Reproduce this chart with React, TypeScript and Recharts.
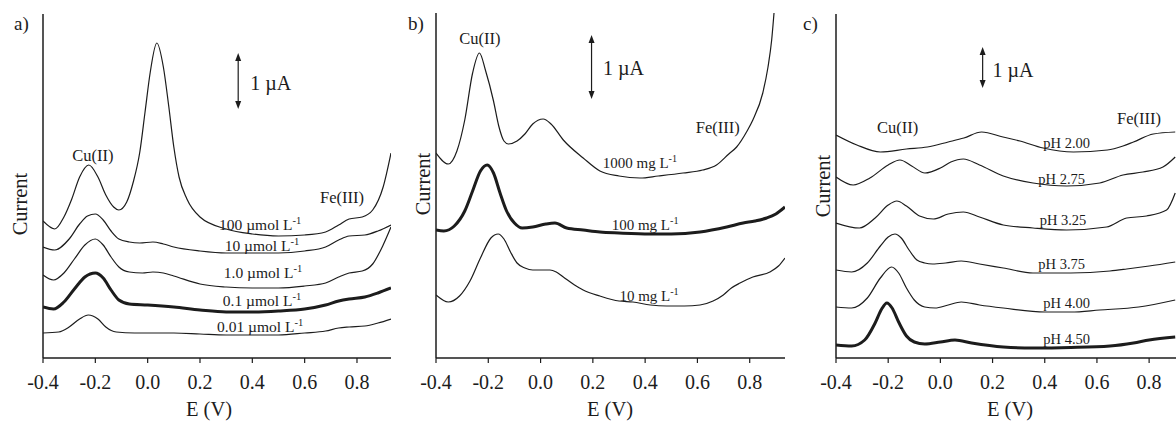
import { LineChart, Line, XAxis, YAxis, ReferenceDot, ReferenceLine } from "recharts";

const FONT = "'Liberation Serif', 'Times New Roman', serif";
const INK = "#1c1c1c";

const ticksE = [-0.4, -0.2, 0, 0.2, 0.4, 0.6, 0.8];

// a) concentration series, [E (V), current (a.u.)]
const a100 = [[-0.4,136],[-0.355,128],[-0.32,140],[-0.29,158],[-0.26,180],[-0.225,192],[-0.19,180],[-0.16,162],[-0.13,150],[-0.11,147],[-0.08,155],[-0.055,175],[-0.03,205],[-0.01,245],[0.01,285],[0.035,314],[0.06,290],[0.08,252],[0.1,210],[0.12,180],[0.15,158],[0.2,140],[0.3,128],[0.4,123],[0.5,121],[0.6,122],[0.68,125],[0.73,132],[0.77,138],[0.82,140],[0.86,147],[0.9,170],[0.93,204]];
const a10 = [[-0.4,110],[-0.355,107],[-0.3,118],[-0.26,133],[-0.23,141],[-0.2,143],[-0.17,137],[-0.14,126],[-0.11,118],[-0.07,115],[-0.03,114],[0.02,115],[0.06,113],[0.1,110],[0.2,106],[0.3,104],[0.4,104],[0.5,104],[0.6,106],[0.68,110],[0.73,117],[0.77,121],[0.83,122],[0.88,126],[0.93,132]];
const a1 = [[-0.4,82],[-0.36,77],[-0.32,84],[-0.28,98],[-0.24,112],[-0.2,118],[-0.17,112],[-0.14,100],[-0.11,90],[-0.07,85],[-0.02,84],[0.02,85],[0.06,84],[0.1,81],[0.2,73],[0.3,70],[0.4,69],[0.5,69],[0.6,71],[0.68,74],[0.73,80],[0.77,84],[0.82,86],[0.86,93],[0.9,112],[0.93,130]];
const a01 = [[-0.4,50],[-0.36,48],[-0.32,55],[-0.28,68],[-0.24,80],[-0.2,84],[-0.17,79],[-0.14,67],[-0.11,57],[-0.07,53],[0.0,52],[0.1,50],[0.2,47],[0.3,45],[0.4,45],[0.5,46],[0.6,48],[0.68,52],[0.73,56],[0.77,58],[0.83,60],[0.88,64],[0.93,69]];
const a001 = [[-0.4,24],[-0.34,25],[-0.3,30],[-0.26,38],[-0.227,42],[-0.19,38],[-0.16,30],[-0.12,25],[-0.05,24],[0.1,24],[0.2,23],[0.3,22],[0.4,22],[0.5,22],[0.6,24],[0.68,26],[0.73,29],[0.77,30],[0.83,31],[0.88,34],[0.93,38]];
const aNames = ["100 µmol L", "10 µmol L", "1.0 µmol L", "0.1 µmol L", "0.01 µmol L"];

// b) matrix series
const b1000 = [[-0.4,203],[-0.353,192],[-0.32,205],[-0.29,236],[-0.26,283],[-0.234,303],[-0.21,285],[-0.18,255],[-0.16,230],[-0.14,215],[-0.123,212],[-0.09,215],[-0.06,222],[-0.03,232],[0.01,237],[0.04,232],[0.087,216],[0.163,198],[0.227,185],[0.3,180],[0.38,178],[0.45,180],[0.545,183],[0.62,186],[0.673,191],[0.72,202],[0.75,209],[0.79,225],[0.812,236],[0.85,263],[0.87,289],[0.884,316],[0.893,343],[0.91,400]];
const b100 = [[-0.4,126],[-0.37,125],[-0.33,130],[-0.29,145],[-0.26,165],[-0.23,185],[-0.204,191],[-0.18,183],[-0.155,163],[-0.13,145],[-0.1,133],[-0.07,128],[-0.03,129],[0.02,132],[0.055,133],[0.1,128],[0.163,126],[0.227,124],[0.3,123],[0.418,122],[0.5,122],[0.61,124],[0.712,129],[0.775,133],[0.82,135],[0.865,138],[0.9,142],[0.935,149]];
const b10 = [[-0.4,61],[-0.353,54],[-0.31,60],[-0.27,75],[-0.23,98],[-0.19,118],[-0.162,122],[-0.14,117],[-0.115,104],[-0.09,93],[-0.06,88],[-0.03,86],[0.0,86],[0.036,86],[0.06,84],[0.087,79],[0.13,71],[0.163,66],[0.227,60],[0.3,55],[0.353,54],[0.42,51],[0.482,50],[0.55,50],[0.61,51],[0.66,55],[0.699,61],[0.73,68],[0.763,73],[0.812,79],[0.877,84],[0.91,90],[0.935,98]];
const bNames = ["1000 mg L", "100 mg L", "10 mg L"];

// c) pH series
const c200 = [[-0.4,223],[-0.32,213],[-0.23,206],[-0.13,209],[-0.05,211],[0.03,216],[0.09,220],[0.158,226],[0.24,221],[0.305,217],[0.394,210],[0.51,206],[0.64,208],[0.7,212],[0.74,216],[0.816,224],[0.9,226]];
const c275 = [[-0.4,181],[-0.334,173],[-0.27,180],[-0.2,193],[-0.155,198],[-0.11,192],[-0.059,185],[0.0,190],[0.04,196],[0.088,199],[0.15,193],[0.241,182],[0.355,175],[0.484,172],[0.611,175],[0.7,183],[0.776,186],[0.853,191],[0.9,201]];
const c325 = [[-0.4,135],[-0.31,130],[-0.25,140],[-0.2,153],[-0.167,157],[-0.13,152],[-0.08,142],[-0.027,139],[0.03,144],[0.088,146],[0.15,141],[0.241,133],[0.355,130],[0.484,128],[0.637,131],[0.714,140],[0.79,142],[0.867,148],[0.9,165]];
const c375 = [[-0.4,88],[-0.34,86],[-0.28,95],[-0.23,112],[-0.2,121],[-0.174,124],[-0.15,120],[-0.12,108],[-0.09,98],[-0.06,95],[-0.03,94],[0.02,95],[0.08,97],[0.15,94],[0.241,90],[0.355,85],[0.5,85],[0.65,87],[0.714,89],[0.8,92],[0.9,96]];
const c400 = [[-0.4,51],[-0.34,50],[-0.28,60],[-0.23,80],[-0.187,91],[-0.16,85],[-0.13,70],[-0.1,58],[-0.06,51],[-0.02,50],[0.03,53],[0.08,56],[0.15,53],[0.241,50],[0.4,46],[0.5,46],[0.611,48],[0.76,51],[0.9,58]];
const c450 = [[-0.4,13],[-0.34,12],[-0.29,18],[-0.25,35],[-0.225,49],[-0.205,55],[-0.185,50],[-0.16,36],[-0.13,22],[-0.1,16],[-0.06,14],[0.0,16],[0.056,18],[0.12,15],[0.241,11],[0.355,10],[0.5,10.5],[0.65,12],[0.74,15],[0.8,18],[0.9,21]];
const cNames = ["pH 2.00", "pH 2.75", "pH 3.25", "pH 3.75", "pH 4.00", "pH 4.50"];

const toPts = (arr: number[][]) => arr.map(([e, v]) => ({ e, v }));

const textLabel =
  (text: string, sup: string | undefined, size: number, anchor: "start" | "middle") =>
  (p: any) => {
    const vb = p.viewBox ?? {};
    const x = (vb.x ?? 0) + (vb.width ?? 0) / 2;
    const y = (vb.y ?? 0) + (vb.height ?? 0) / 2;
    return (
      <text x={x} y={y} dy="0.35em" textAnchor={anchor} fontSize={size} fontFamily={FONT} fill={INK}>
        {text}
        {sup ? (
          <tspan dy={-size * 0.4} fontSize={size * 0.68}>
            {sup}
          </tspan>
        ) : null}
      </text>
    );
  };

const ArrowBar = (p: any) => {
  const x = p.x1;
  const top = Math.min(p.y1, p.y2);
  const bot = Math.max(p.y1, p.y2);
  return (
    <g>
      <line x1={x} x2={x} y1={top + 4} y2={bot - 4} stroke={INK} strokeWidth={1.2} />
      <polygon points={`${x - 3},${top + 8} ${x + 3},${top + 8} ${x},${top}`} fill={INK} />
      <polygon points={`${x - 3},${bot - 8} ${x + 3},${bot - 8} ${x},${bot}`} fill={INK} />
    </g>
  );
};

const panels = [
  {
    key: "a", left: 0, width: 400, margin: { top: 14, right: 9, left: 42, bottom: 0 },
    xMax: 0.93, yDomain: [-1, 343],
    series: [a100, a10, a1, a01, a001], bold: 3, names: aNames, sup: "-1", nameSize: 15.5,
    nameAt: [[0.43, 132], [0.437, 111], [0.441, 84], [0.437, 56], [0.43, 30]],
    cu: [-0.209, 202], fe: [0.743, 160], bar: [0.346, 304, 248], ua: [0.392, 274],
    letter: "a)", letterX: 14, currentX: 20, currentY: 204, eX: 209,
  },
  {
    key: "b", left: 394, width: 400, margin: { top: 13, right: 9, left: 41, bottom: 0 },
    xMax: 0.935, yDomain: [-2, 343],
    series: [b1000, b100, b10], bold: 1, names: bNames, sup: "-1", nameSize: 15,
    nameAt: [[0.38, 193], [0.4, 131], [0.415, 60]],
    cu: [-0.232, 318], fe: [0.678, 229], bar: [0.195, 321, 257], ua: [0.239, 288],
    letter: "b)", letterX: 408, currentX: 423, currentY: 184, eX: 610,
  },
  {
    key: "c", left: 788, width: 388, margin: { top: 14, right: 0, left: 47, bottom: 0 },
    xMax: 0.903, yDomain: [0, 344],
    series: [c200, c275, c325, c375, c400, c450], bold: 5, names: cNames, sup: undefined, nameSize: 14.5,
    nameAt: [[0.484, 215], [0.465, 179], [0.47, 138], [0.465, 94], [0.484, 55], [0.484, 19]],
    cu: [-0.164, 231], fe: [0.761, 240], bar: [0.162, 311, 270], ua: [0.2, 288],
    letter: "c)", letterX: 803, currentX: 823, currentY: 186, eX: 1010,
  },
];

const Panel = ({ p }: { p: (typeof panels)[number] }) => {
  const side = () => (
    <g fontFamily={FONT} fill={INK}>
      <text x={p.letterX - p.left} y={30} fontSize={19}>{p.letter}</text>
      <text
        x={p.currentX - p.left}
        y={p.currentY}
        dy="0.35em"
        fontSize={20.5}
        textAnchor="middle"
        transform={`rotate(-90 ${p.currentX - p.left} ${p.currentY})`}
      >
        Current
      </text>
    </g>
  );
  const eLabel = () => (
    <text x={p.eX - p.left} y={416} textAnchor="middle" fontSize={20.5} fontFamily={FONT} fill={INK}>
      E (V)
    </text>
  );
  return (
    <div style={{ position: "absolute", left: p.left, top: 0, width: p.width, height: 421 }}>
      <LineChart width={p.width} height={421} margin={p.margin}>
        <XAxis
          type="number"
          dataKey="e"
          domain={[-0.4, p.xMax]}
          allowDataOverflow
          ticks={ticksE}
          tickFormatter={(v: number) => v.toFixed(1)}
          height={63}
          tickSize={5}
          tickMargin={12}
          axisLine={{ stroke: INK, strokeWidth: 1.5 }}
          tickLine={{ stroke: INK, strokeWidth: 1.2 }}
          tick={{ fill: INK, fontSize: 20, fontFamily: FONT }}
          label={eLabel}
        />
        <YAxis
          type="number"
          domain={p.yDomain}
          allowDataOverflow
          width={1}
          tick={false}
          tickLine={false}
          axisLine={{ stroke: INK, strokeWidth: 1.5 }}
          label={side}
        />
        {p.series.map((s, i) => (
          <Line
            key={p.key + i}
            data={toPts(s)}
            dataKey="v"
            type="monotone"
            stroke={INK}
            strokeWidth={i === p.bold ? 3 : 1.2}
            dot={false}
            activeDot={false}
            isAnimationActive={false}
          />
        ))}
        {p.names.map((n, i) => (
          <ReferenceDot
            key={"n" + i}
            x={p.nameAt[i][0]}
            y={p.nameAt[i][1]}
            r={0}
            fill="none"
            stroke="none"
            label={textLabel(n, p.sup, p.nameSize, "middle")}
          />
        ))}
        <ReferenceDot x={p.cu[0]} y={p.cu[1]} r={0} fill="none" stroke="none" label={textLabel("Cu(II)", undefined, 16.5, "middle")} />
        <ReferenceDot x={p.fe[0]} y={p.fe[1]} r={0} fill="none" stroke="none" label={textLabel("Fe(III)", undefined, 16.5, "middle")} />
        <ReferenceDot x={p.ua[0]} y={p.ua[1]} r={0} fill="none" stroke="none" label={textLabel("1 µA", undefined, 20, "start")} />
        <ReferenceLine
          segment={[{ x: p.bar[0], y: p.bar[1] }, { x: p.bar[0], y: p.bar[2] }]}
          stroke={INK}
          shape={ArrowBar}
        />
      </LineChart>
    </div>
  );
};

export default function App() {
  return (
    <div style={{ position: "absolute", left: 0, top: 0, width: 1176, height: 421, background: "#fff" }}>
      {panels.map((p) => (
        <Panel key={p.key} p={p} />
      ))}
    </div>
  );
}
